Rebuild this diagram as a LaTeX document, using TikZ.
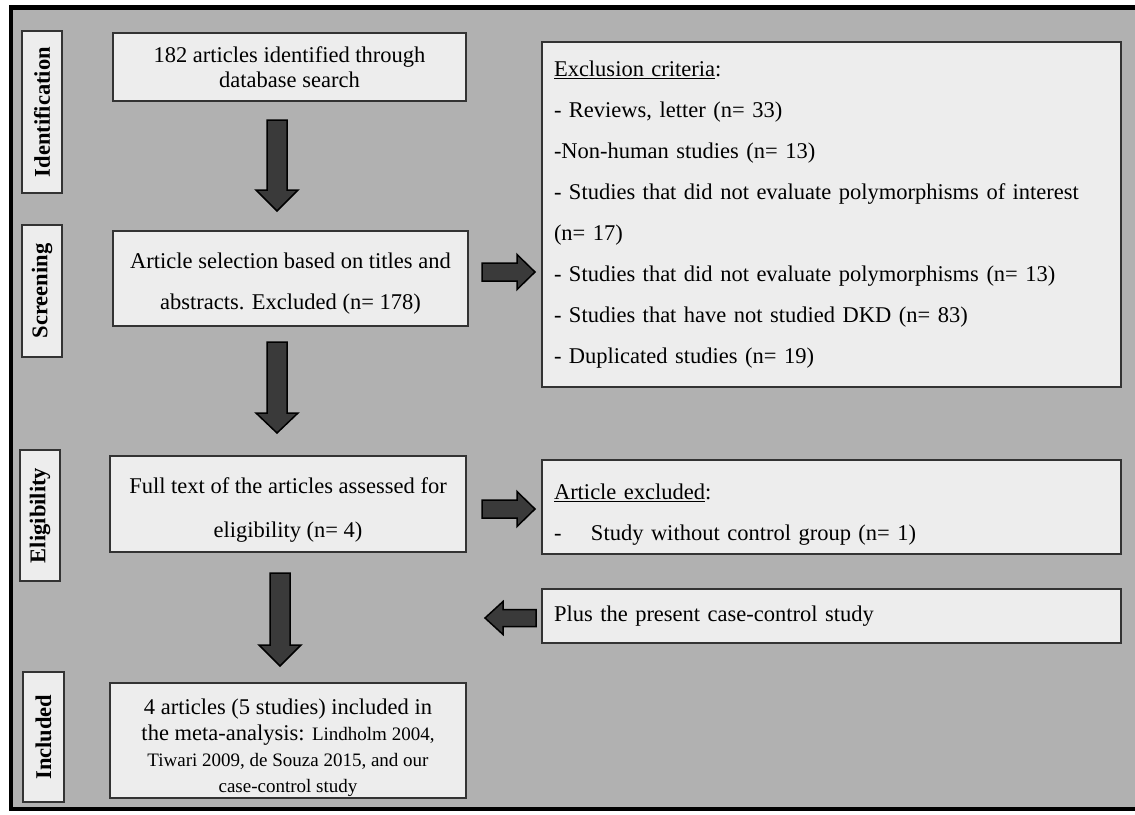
\documentclass[tikz,border=0pt]{standalone}
\usepackage{fontspec}
\setmainfont{Liberation Serif}
\definecolor{bggray}{HTML}{B1B1B1}
\definecolor{boxfill}{HTML}{EDEDED}
\definecolor{boxline}{HTML}{333333}
\definecolor{arrowfill}{HTML}{3A3A3A}
\tikzset{
  box/.style={draw=boxline, fill=boxfill, line width=1.5pt, inner sep=0pt,
    font=\fontsize{22.5}{41}\selectfont, align=center},
  lbl/.style={draw=boxline, fill=boxfill, line width=1.5pt, inner sep=0pt,
    rotate=90, font=\bfseries\fontsize{22.5}{27}\selectfont},
  lbox/.style={box, align=left, inner xsep=12pt, text width=555pt},
  blockarrow/.style={fill=arrowfill, draw=black, line width=1.5pt, line join=miter},
}
\newcommand\BlkDown[4]{% cx, top, base, tip
  \draw[blockarrow] (#1-10,#2) -- (#1+10,#2) -- (#1+10,#3) -- (#1+21,#3) -- (#1,#4)
    -- (#1-21,#3) -- (#1-10,#3) -- cycle;}
\newcommand\BlkRight[4]{% cy, left, base, tip
  \draw[blockarrow] (#2,#1-9) -- (#3,#1-9) -- (#3,#1-17.5) -- (#4,#1) -- (#3,#1+17.5)
    -- (#3,#1+9) -- (#2,#1+9) -- cycle;}
\newcommand\BlkLeft[4]{% cy, right, base, tip
  \draw[blockarrow] (#2,#1-8.5) -- (#3,#1-8.5) -- (#3,#1-16.5) -- (#4,#1) -- (#3,#1+16.5)
    -- (#3,#1+8.5) -- (#2,#1+8.5) -- cycle;}
\begin{document}
\begin{tikzpicture}[x=1pt,y=-1pt]
\useasboundingbox (0,0) rectangle (1135,814);
\fill[white] (0,0) rectangle (1135,814);
\fill[bggray] (11,7.5) rectangle (1135,809);
\draw[line width=4.5pt] (1135,7.5) -- (11,7.5) -- (11,809) -- (1135,809);

% stage labels
\node[lbl, minimum width=162pt, minimum height=40pt] (l1) at (42,112) {Identification};
\node[lbl, minimum width=132pt, minimum height=40pt] (l2) at (42,291) {Screening};
\node[lbl, minimum width=131pt, minimum height=40pt] (l3) at (40,515.5) {Eligibility};
\node[lbl, minimum width=130pt, minimum height=41pt] (l4) at (43.5,737) {Included};

% main column
\node[box, minimum width=353pt, minimum height=68pt, font=\fontsize{22.5}{25}\selectfont]
  (b1) at (289.5,67) {182 articles identified through\\database search};
\node[box, minimum width=355pt, minimum height=95pt]
  (b2) at (290.5,278.5) {\rule{0pt}{25pt}Article selection based on titles and\\abstracts. Excluded (n= 178)};
\node[box, minimum width=356pt, minimum height=96pt, font=\fontsize{22.5}{44}\selectfont]
  (b3) at (288,504) {\rule{0pt}{27pt}Full text of the articles assessed for\\eligibility (n= 4)};
\node[box, minimum width=356pt, minimum height=115pt, font=\fontsize{22.5}{26}\selectfont]
  (b4) at (288,740.5) {\rule{0pt}{31pt}4 articles (5 studies) included in\\
  the meta-analysis: {\fontsize{19}{25}\selectfont Lindholm 2004,}\\
  {\fontsize{19}{25}\selectfont Tiwari 2009, de Souza 2015, and our}\\
  {\fontsize{19}{25}\selectfont case-control study}};

% right column
\node[lbox, minimum height=345pt] (ex) at (831.5,214.5) {\underline{Exclusion criteria}:\\
- Reviews, letter (n= 33)\\
-Non-human studies (n= 13)\\
- Studies that did not evaluate polymorphisms of interest\\
(n= 17)\\
- Studies that did not evaluate polymorphisms (n= 13)\\
- Studies that have not studied DKD (n= 83)\\
- Duplicated studies (n= 19)};
\node[lbox, minimum height=94pt] (ae) at (831.5,507) {\rule{0pt}{31pt}\underline{Article excluded}:\\
\makebox[37pt][l]{-}Study without control group (n= 1)};
\node[lbox, minimum height=54pt] (pl) at (831.5,616) {Plus the present case-control study};

% block arrows
\BlkDown{277}{120}{190}{211}
\BlkDown{277}{342}{413}{433}
\BlkDown{280}{573}{645}{666}
\BlkRight{272}{482}{517}{535}
\BlkRight{509}{482}{517}{535}
\BlkLeft{618}{536}{503}{485}
\end{tikzpicture}
\end{document}
